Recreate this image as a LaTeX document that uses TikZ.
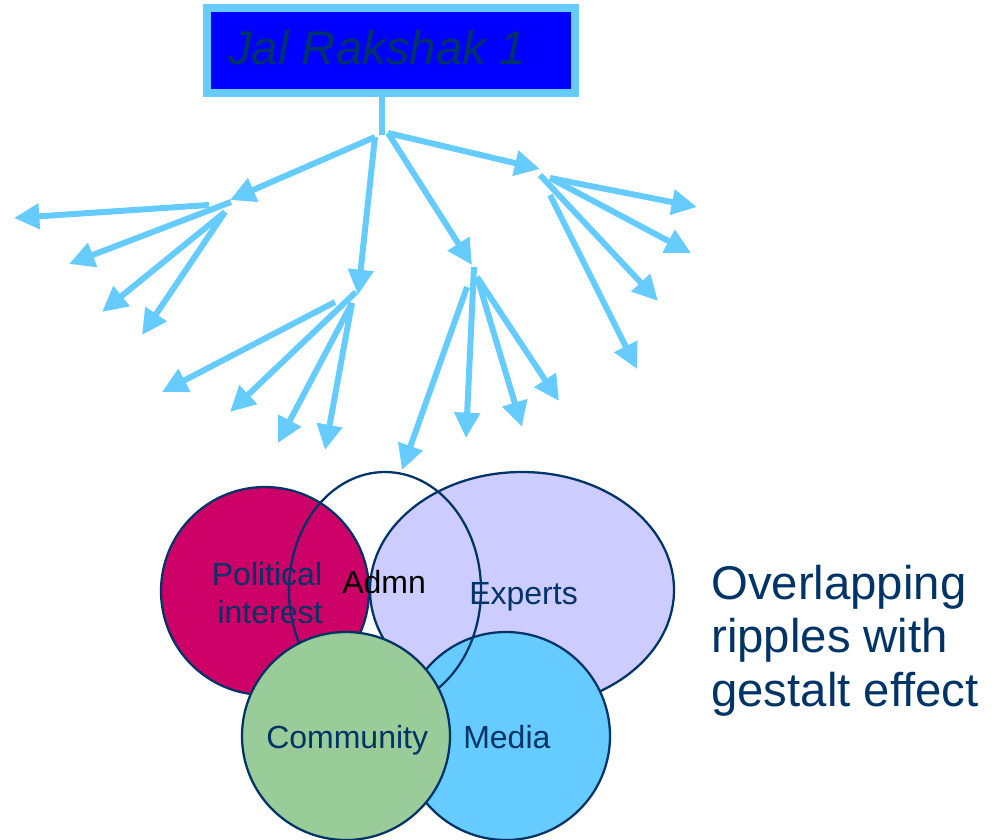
\documentclass[tikz,border=0pt]{standalone}
\usepackage{fontspec}
\setmainfont{Liberation Sans}
\usetikzlibrary{arrows.meta,shapes.geometric}
\definecolor{sky}{HTML}{66CCFF}
\definecolor{navy}{HTML}{003366}
\definecolor{polc}{HTML}{CC0066}
\definecolor{expc}{HTML}{CCCCFF}
\definecolor{comc}{HTML}{99CC99}
\tikzset{
  arr/.style={draw=sky, line width=4.5pt, -{Triangle[length=19pt,width=18.5pt,fill=sky]}},
  stem/.style={draw=sky, line width=4.5pt},
  ring/.style={draw=navy, line width=1.7pt, inner sep=0pt, outer sep=0pt},
  lab/.style={text=navy, font=\fontsize{24}{28}\selectfont, inner sep=0pt},
  big/.style={text=navy, font=\fontsize{35.5}{40}\selectfont, inner sep=0pt, anchor=base west}
}
\begin{document}
\begin{tikzpicture}[x=0.75pt,y=-0.75pt]
\useasboundingbox (0,0) rectangle (994,839);
% title box
\node[draw=sky, line width=6pt, fill=blue, minimum width=276pt, minimum height=63.75pt, inner sep=0pt] (title) at (391,50.5) {};
\node[big, font=\fontsize{35.5}{40}\selectfont\itshape] (titletext) at (228,64) {Jal Rakshak 1};
% tree coordinates
\coordinate (root) at (382,135);
\coordinate (b1s) at (375,137); \coordinate (b1t) at (230,200);
\coordinate (b2s) at (375,137); \coordinate (b2t) at (358,295);
\coordinate (b3s) at (388,133); \coordinate (b3t) at (472,265);
\coordinate (b4s) at (388,133); \coordinate (b4t) at (540,169);
\coordinate (s1a) at (209,205); \coordinate (t1a) at (14,218);
\coordinate (s1b) at (231,202); \coordinate (t1b) at (69,264);
\coordinate (s1c) at (225,212); \coordinate (t1c) at (102,312); \coordinate (t1d) at (142,335);
\coordinate (s2a) at (335,302); \coordinate (t2a) at (162,392);
\coordinate (s2b) at (356,292); \coordinate (t2b) at (230,412);
\coordinate (s2c) at (352,303); \coordinate (t2c) at (278,443); \coordinate (t2d) at (325,450);
\coordinate (s3a) at (467,287); \coordinate (t3a) at (402,470);
\coordinate (s3b) at (474,267); \coordinate (t3b) at (466,438);
\coordinate (s3c) at (477,277); \coordinate (t3c) at (522,427); \coordinate (t3d) at (559,401);
\coordinate (s4a) at (550,178); \coordinate (t4a) at (697,207); \coordinate (t4b) at (691,253);
\coordinate (s4b) at (540,175); \coordinate (t4c) at (658,301);
\coordinate (s4c) at (550,195); \coordinate (t4d) at (637,369);
% stem and branches
\draw[stem] (root |- title.south) -- (root);
\draw[arr] (b1s) -- (b1t);
\draw[arr] (b2s) -- (b2t);
\draw[arr] (b3s) -- (b3t);
\draw[arr] (b4s) -- (b4t);
\draw[arr] (s1a) -- (t1a);
\draw[arr] (s1b) -- (t1b);
\draw[arr] (s1c) -- (t1c);
\draw[arr] (s1c) -- (t1d);
\draw[arr] (s2a) -- (t2a);
\draw[arr] (s2b) -- (t2b);
\draw[arr] (s2c) -- (t2c);
\draw[arr] (s2c) -- (t2d);
\draw[arr] (s3a) -- (t3a);
\draw[arr] (s3b) -- (t3b);
\draw[arr] (s3c) -- (t3c);
\draw[arr] (s3c) -- (t3d);
\draw[arr] (s4a) -- (t4a);
\draw[arr] (s4a) -- (t4b);
\draw[arr] (s4b) -- (t4c);
\draw[arr] (s4c) -- (t4d);
% ripples
\node[ring, circle, fill=polc, minimum size=156pt] (pol) at (265,591) {};
\node[ring, ellipse, fill=expc, minimum width=228pt, minimum height=177pt] (exp) at (522,590) {};
\node[ring, circle, fill=sky, minimum size=156pt] (med) at (506,736) {};
\node[ring, ellipse, minimum width=144pt, minimum height=177pt] (adm) at (385,590) {};
\node[ring, circle, fill=comc, minimum size=156pt] (com) at (346,736) {};
% labels
\node[lab, anchor=base] (poltext) at (267,585) {Political};
\node[lab, anchor=base] (poltext2) at (270,623) {interest};
\node[lab, anchor=base west, text=black] (admtext) at (342,593) {Admn};
\node[lab, anchor=base west] (exptext) at (469,604) {Experts};
\node[lab, anchor=base west] (comtext) at (266,748) {Community};
\node[lab, anchor=base west] (medtext) at (463,748) {Media};
\node[big] (side1) at (711,599) {Overlapping};
\node[big] (side2) at (711,652) {ripples with};
\node[big] (side3) at (711,706) {gestalt effect};
\end{tikzpicture}
\end{document}
